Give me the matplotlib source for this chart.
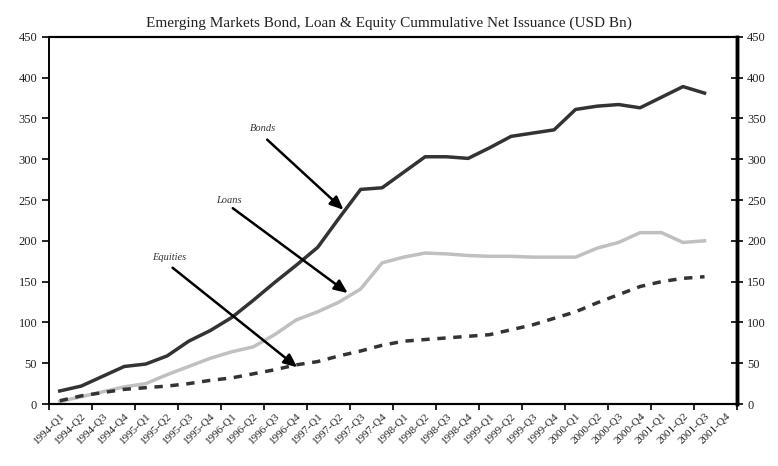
import numpy as np
import matplotlib
matplotlib.use("Agg")
from matplotlib import pyplot as plt

# Quarters 1994-Q1 .. 2001-Q4 (data runs to 2001-Q3)
quarters = [f"{y}-Q{q}" for y in range(1994, 2002) for q in range(1, 5)]

bonds = [16, 22, 34, 46, 49, 59, 77, 90, 106, 127, 149, 170, 192, 228, 263, 265,
         284, 303, 303, 301, 314, 328, 332, 336, 361, 365, 367, 363, 376, 389, 381]
loans = [3, 9, 15, 21, 25, 36, 46, 56, 64, 70, 85, 103, 113, 125, 141, 173,
         180, 185, 184, 182, 181, 181, 180, 180, 180, 191, 198, 210, 210, 198, 200]
equities = [4, 10, 14, 18, 20, 22, 25, 29, 32, 37, 42, 48, 52, 59, 65, 72,
            77, 79, 81, 83, 85, 91, 97, 105, 113, 124, 134, 144, 150, 154, 156]

serif = ["Liberation Serif", "DejaVu Serif"]
plt.rcParams['font.family'] = serif

fig = plt.figure(figsize=(7.78, 4.66), dpi=100)
ax = fig.add_axes([0.063, 0.133, 0.884, 0.788])

x = np.arange(len(bonds))
ax.plot(x, bonds, color="#333333", lw=2.5)
ax.plot(x, loans, color="#c0c0c0", lw=2.5)
ax.plot(np.arange(len(equities)), equities, color="#333333", lw=2.5,
        dashes=(2.4, 2.2))

ax.set_xlim(-0.5, len(quarters) - 0.5)
ax.set_ylim(0, 450)

# tick marks on category boundaries, labels at category centres
ax.set_xticks(np.arange(-0.5, len(quarters), 2))
ax.set_xticklabels([])
ax.set_xticks(np.arange(len(quarters)), minor=True)
ax.set_xticklabels(quarters, minor=True, rotation=45, ha="right",
                   rotation_mode="anchor", fontsize=8, color="#222222")
ax.tick_params(axis="x", which="minor", length=0, pad=5)
ax.tick_params(axis="x", which="major", length=4, width=1.2, direction="out")

ax.set_yticks(np.arange(0, 451, 50))
ax.tick_params(axis="y", labelsize=9, length=5, width=1.2, direction="out",
               labelcolor="#222222")
ax2 = ax.twinx()
ax2.set_ylim(0, 450)
ax2.set_yticks(np.arange(0, 451, 50))
ax2.tick_params(axis="y", labelsize=9, length=8, width=1.2, direction="inout",
                labelcolor="#222222")

for a in (ax, ax2):
    a.spines["top"].set_linewidth(1.5)
    a.spines["bottom"].set_linewidth(1.5)
    a.spines["left"].set_linewidth(1.2)
    a.spines["right"].set_linewidth(2.5)

arrow = dict(arrowstyle="-|>,head_length=0.8,head_width=0.35", color="black",
             lw=1.8, shrinkA=0, shrinkB=0)
ax.annotate("", xy=(13.2, 238), xytext=(9.65, 324), arrowprops=arrow)
ax.annotate("", xy=(13.4, 136), xytext=(8.05, 240), arrowprops=arrow)
ax.annotate("", xy=(11.05, 45), xytext=(5.25, 167), arrowprops=arrow)
ax.text(9.45, 338, "Bonds", style="italic", fontsize=7.5, ha="center", va="center",
        color="#333333")
ax.text(7.85, 250, "Loans", style="italic", fontsize=7.5, ha="center", va="center",
        color="#333333")
ax.text(5.1, 179, "Equities", style="italic", fontsize=7.5, ha="center", va="center",
        color="#333333")

fig.suptitle("Emerging Markets Bond, Loan & Equity Cummulative Net Issuance (USD Bn)",
             y=0.965, fontsize=11, color="#222222")

fig.savefig("out.png", dpi=100)
